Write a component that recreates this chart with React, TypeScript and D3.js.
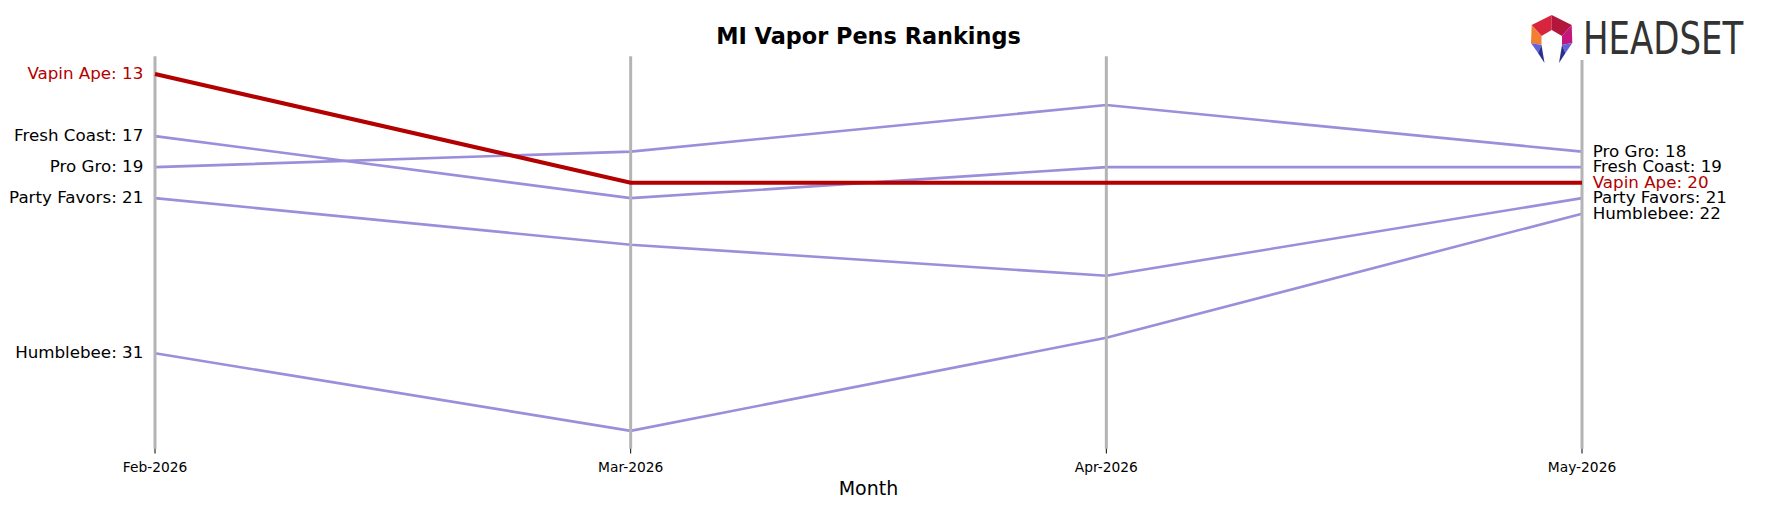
import React from "react";
import * as d3 from "d3";

const months = ["Feb-2026", "Mar-2026", "Apr-2026", "May-2026"];
const brandNames = ["Vapin Ape", "Fresh Coast", "Pro Gro", "Party Favors", "Humblebee"];
const vapinApe = [13, 20, 20, 20];
const freshCoast = [17, 21, 19, 19];
const proGro = [19, 18, 15, 18];
const partyFavors = [21, 24, 26, 21];
const humblebee = [31, 36, 30, 22];
const highlighted = "Vapin Ape";

const seriesValues = [vapinApe, freshCoast, proGro, partyFavors, humblebee];

const W = 1766;
const H = 507;
const RED = "#b30000";
const PURPLE = "#9b8edb";
const GRAY = "#b4b4b4";
const FONT = "'DejaVu Sans', sans-serif";

export default function App() {
  const series = brandNames.map((name, i) => ({ name, values: seriesValues[i] }));
  const x = d3.scalePoint<string>().domain(months).range([155, 1582]);
  const allVals = seriesValues.flat();
  const lo = d3.min(allVals)!;
  const hi = d3.max(allVals)!;
  const pad = (hi - lo) * 0.05;
  const y = d3.scaleLinear().domain([lo - pad, hi + pad]).range([56.2, 448.7]);
  const line = d3
    .line<number>()
    .x((_, i) => x(months[i])!)
    .y((v) => y(v));

  const others = series.filter((s) => s.name !== highlighted);
  const hl = series.filter((s) => s.name === highlighted);
  const first = months[0];
  const last = months[months.length - 1];

  const P = {
    T: [31.7, 5], LS: [11.7, 15], RS: [51.7, 15], LB: [11, 33], RB: [52.3, 33],
    LF: [24.5, 53], RF: [39, 53], IT: [31.7, 20], ILS: [21.5, 26], IRS: [42, 26],
    ILB: [21.5, 35], IRB: [42, 35], LM: [18, 43], RM: [45.5, 43],
  } as Record<string, number[]>;
  const poly = (keys: string[]) => keys.map((k) => P[k].join(",")).join(" ");

  return (
    <svg width={W} height={H} style={{ position: "absolute", left: 0, top: 0, background: "#fff" }} fontFamily={FONT}>
      <rect x={0} y={0} width={W} height={H} fill="#fff" />
      <text x={(155 + 1582) / 2} y={44.3} textAnchor="middle" fontSize={22.4} fontWeight="bold" fill="#000">
        MI Vapor Pens Rankings
      </text>
      {others.map((s) => (
        <path key={s.name} d={line(s.values)!} fill="none" stroke={PURPLE} strokeWidth={2.6} />
      ))}
      {months.map((m) => (
        <g key={m}>
          <line x1={x(m)} x2={x(m)} y1={56.2} y2={448.7} stroke={GRAY} strokeWidth={3} />
          <line x1={x(m)} x2={x(m)} y1={448.7} y2={453.5} stroke="#000" strokeWidth={1} />
          <text x={x(m)} y={472.4} textAnchor="middle" fontSize={13.8} fill="#000">{m}</text>
        </g>
      ))}
      {hl.map((s) => (
        <path key={s.name} d={line(s.values)!} fill="none" stroke={RED} strokeWidth={4} />
      ))}
      {series.map((s) => (
        <text key={"l" + s.name} x={143.3} y={y(s.values[0])} dy="0.31em" textAnchor="end" fontSize={16.7}
          fill={s.name === highlighted ? RED : "#000"}>
          {`${s.name}: ${s.values[0]}`}
        </text>
      ))}
      {series.map((s) => (
        <text key={"r" + s.name} x={1592.7} y={y(s.values[s.values.length - 1])} dy="0.31em" textAnchor="start" fontSize={16.7}
          fill={s.name === highlighted ? RED : "#000"}>
          {`${s.name}: ${s.values[s.values.length - 1]}`}
        </text>
      ))}
      <text x={x(first)! + (x(last)! - x(first)!) / 2} y={494.5} textAnchor="middle" fontSize={19} fill="#000">
        Month
      </text>
      <g>
        <rect x={1515} y={0} width={251} height={60} fill="#fff" />
        <g transform="translate(1520,10)">
          <polygon points={poly(["T", "IT", "ILS", "LS"])} fill="#d6253d" />
          <polygon points={poly(["T", "RS", "IRS", "IT"])} fill="#b3163c" />
          <polygon points={poly(["LS", "ILS", "ILB", "LB"])} fill="#f08030" />
          <polygon points={poly(["RS", "RB", "IRB", "IRS"])} fill="#c2187e" />
          <polygon points={poly(["LB", "ILB", "LM"])} fill="#6262dc" />
          <polygon points={poly(["LM", "ILB", "LF"])} fill="#2c2f8e" />
          <polygon points={poly(["RB", "IRB", "RM"])} fill="#6262dc" />
          <polygon points={poly(["RM", "IRB", "RF"])} fill="#2c2f8e" />
        </g>
        <g transform="translate(1583,54) scale(0.755,1)">
          <text x={0} y={0} fontSize={45} fill="#333" fontFamily="'DejaVu Sans', sans-serif">
            HEADSET
          </text>
        </g>
      </g>
    </svg>
  );
}
